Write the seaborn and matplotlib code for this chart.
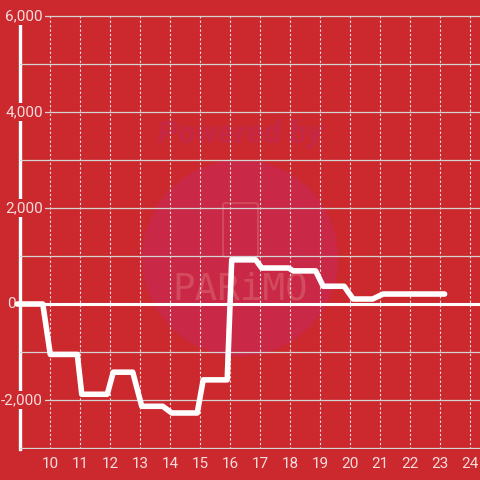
import seaborn as sns
import matplotlib.pyplot as plt
from matplotlib.patches import Circle, FancyBboxPatch

# hourly balance (breakpoints of the held line)
hours = [8.9, 9.75, 10.0, 10.9, 11.05, 11.9, 12.1, 12.75, 13.05, 13.75, 14.05, 14.9,
         15.1, 15.9, 16.05, 16.85, 17.05, 17.95, 18.1, 18.85, 19.1, 19.8, 20.1, 20.75,
         21.1, 23.15]
balance = [0, 0, -1050, -1050, -1880, -1880, -1420, -1420, -2130, -2130, -2270, -2270,
           -1580, -1580, 920, 920, 750, 750, 690, 690, 370, 370, 104, 104,
           208, 208]

x_ticks = list(range(10, 25))
y_grid = list(range(-3000, 7000, 1000))
y_labels = {6000: '6,000', 4000: '4,000', 2000: '2,000', 0: '0', -2000: '-2,000'}

RED = '#cc292e'
TXT = '#f6dcdc'

sns.set_theme(style='white')
plt.rcParams['font.family'] = ['Roboto', 'DejaVu Sans']

fig = plt.figure(figsize=(4.8, 4.8), dpi=100)
fig.patch.set_facecolor(RED)
ax = fig.add_axes([20 / 480, 31 / 480, 460 / 480, 434 / 480])
ax.set_facecolor(RED)
ax.set_axisbelow(True)

# watermark, under the grid
tf = fig.transFigure
ax.add_patch(Circle((0.5, 1 - 258 / 480), 98 / 480, transform=tf,
                    facecolor='#c92847', edgecolor='none', zorder=0.3))
ax.text(0.5, 1 - 134 / 480, 'Powered by', transform=tf, ha='center', va='center',
        fontsize=23, fontweight='heavy', fontstyle='italic', color='#c62844', zorder=0.35)
ax.text(0.5, 1 - 289 / 480, 'PARiMO', transform=tf, ha='center', va='center',
        fontsize=27, family='DejaVu Sans Mono', color='#d65462', alpha=0.8, zorder=0.35)
ax.add_patch(FancyBboxPatch((225 / 480, 1 - 255 / 480), 31 / 480, 50 / 480,
                            boxstyle='round,pad=0.004', transform=tf,
                            facecolor='none', edgecolor='#d65462', lw=1.3, alpha=0.8,
                            zorder=0.35))

sns.lineplot(x=hours, y=balance, ax=ax, color='white', lw=4, sort=False,
             estimator=None, zorder=5, clip_on=False)

ax.set_xlim(8.99, 24.33)
ax.set_ylim(-3020, 6020)

ax.set_yticks(y_grid)
ax.set_yticklabels([])
ax.grid(axis='y', color='#d4d4d4', lw=0.9, ls='-')
ax.set_xticks(x_ticks)
ax.grid(axis='x', color='#f2e4e4', lw=0.8, ls=(0, (2, 2)))
ax.axhline(0, color='white', lw=2.2, zorder=1)

ax.tick_params(axis='both', length=0)
ax.tick_params(axis='x', colors=TXT, labelsize=11, pad=6)

for s in ['top', 'right', 'bottom']:
    ax.spines[s].set_visible(False)
ax.spines['left'].set_color('white')
ax.spines['left'].set_linewidth(2.4)
ax.spines['left'].set_zorder(0.4)

# y labels sit inside the plot, over the spine
for v, lab in y_labels.items():
    xpos = 8.86 if v == 0 else 9.76
    ax.text(xpos, v, lab, ha='right', va='center', fontsize=11, color=TXT, zorder=0.6,
            bbox=dict(facecolor=RED, edgecolor='none', pad=1.5))

ax.set_xlabel('')
ax.set_ylabel('')
fig.savefig('out.png', dpi=100, facecolor=RED)
